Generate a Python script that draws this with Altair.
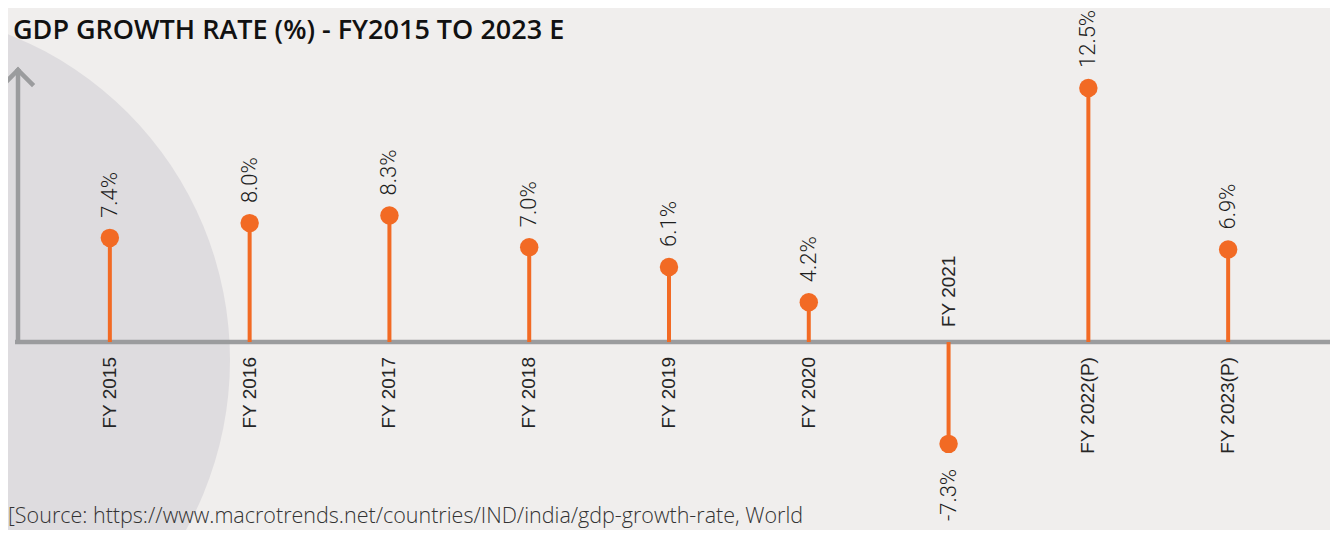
import altair as alt
import pandas as pd

categories = ["FY 2015", "FY 2016", "FY 2017", "FY 2018", "FY 2019",
              "FY 2020", "FY 2021", "FY 2022(P)", "FY 2023(P)"]
values = [7.4, 8.0, 8.3, 7.0, 6.1, 4.2, -7.3, 12.5, 6.9]
labels = [f"{v:.1f}%" for v in values]

title_text = "GDP GROWTH RATE (%) - FY2015 TO 2023 E"
source_text = "[Source: https://www.macrotrends.net/countries/IND/india/gdp-growth-rate, World"

ORANGE = "#F26A24"
AXIS_GREY = "#9B9C9E"
W, H = 1322, 522

df = pd.DataFrame({"cat": categories, "value": values, "label": labels,
                   "zero": [0.0] * len(values)})
one = pd.DataFrame({"t": [title_text], "s": [source_text], "zero": [0.0]})

x = alt.X("cat:N", sort=categories,
          scale=alt.Scale(type="point", padding=0.7286), axis=None)
yscale = alt.Scale(type="pow", exponent=1.7, domain=[-10.47, 14.685],
                   nice=False, zero=False)
y = alt.Y("value:Q", scale=yscale, axis=None)
y0 = alt.Y("zero:Q", scale=yscale, axis=None)

base = alt.Chart(df)

blob = alt.Chart(one).mark_circle(color="#DEDCDF", opacity=1).encode(
    x=alt.value(-128), y=alt.value(352), size=alt.value(490000))

stems = base.mark_rule(color=ORANGE, strokeWidth=4).encode(
    x=x, y=y, y2="zero:Q")

h_axis = alt.Chart(one).mark_rule(color=AXIS_GREY, strokeWidth=4.5).encode(
    x=alt.value(7), x2=alt.value(1327), y=y0)
v_axis = alt.Chart(one).mark_rule(color=AXIS_GREY, strokeWidth=4.5).encode(
    x=alt.value(10), y=y0, y2=alt.value(62))
arm_l = alt.Chart(one).mark_rule(color=AXIS_GREY, strokeWidth=4.5, strokeCap="square").encode(
    x=alt.value(10), y=alt.value(62), x2=alt.value(-4), y2=alt.value(76))
arm_r = alt.Chart(one).mark_rule(color=AXIS_GREY, strokeWidth=4.5, strokeCap="square").encode(
    x=alt.value(10), y=alt.value(62), x2=alt.value(24), y2=alt.value(76))

dots = base.mark_circle(size=340, color=ORANGE, opacity=1).encode(x=x, y=y)

val_font = "Roboto, Liberation Sans, Arial"
val_pos = base.transform_filter("datum.value >= 0").mark_text(
    angle=270, align="left", baseline="middle", dx=20, fontSize=22,
    fontWeight=300, font=val_font, color="#1E1E1E").encode(x=x, y=y, text="label:N")
val_neg = base.transform_filter("datum.value < 0").mark_text(
    angle=270, align="right", baseline="middle", dx=-25, fontSize=22,
    fontWeight=300, font=val_font, color="#1E1E1E").encode(x=x, y=y, text="label:N")

cat_font = "Liberation Sans, Arial"
cat_pos = base.transform_filter("datum.value >= 0").mark_text(
    angle=270, align="right", baseline="middle", dx=-15, fontSize=19,
    font=cat_font, color="#262626").encode(x=x, y=y0, text="cat:N")
cat_neg = base.transform_filter("datum.value < 0").mark_text(
    angle=270, align="left", baseline="middle", dx=15, fontSize=19,
    font=cat_font, color="#262626").encode(x=x, y=y0, text="cat:N")

title = alt.Chart(one).mark_text(
    align="left", baseline="alphabetic", fontSize=27, fontWeight=600,
    font="Open Sans", color="#111111").encode(
    x=alt.value(5), y=alt.value(31), text="t:N")
source = alt.Chart(one).mark_text(
    align="left", baseline="alphabetic", fontSize=21.5, fontWeight=300,
    font="Open Sans", color="#333333").encode(
    x=alt.value(0), y=alt.value(515), text="s:N")

chart = alt.layer(
    blob, h_axis, v_axis, arm_l, arm_r, stems, dots,
    val_pos, val_neg, cat_pos, cat_neg, title, source
).properties(
    width=W, height=H,
    autosize=alt.AutoSizeParams(type="none"),
    padding=0,
    background="#F0EEED",
).configure_view(stroke=None)

chart.save("out.html", embed_options={"renderer": "svg", "actions": False})
